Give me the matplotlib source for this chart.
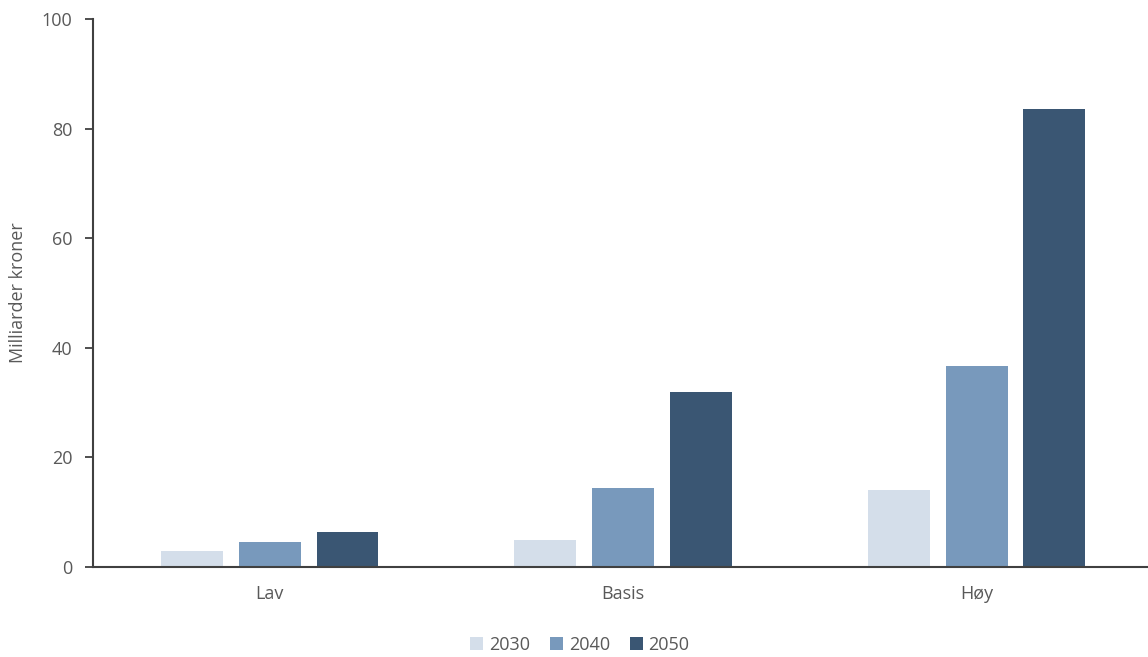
import matplotlib.pyplot as plt
import numpy as np

plt.rcParams['font.family'] = ['Open Sans', 'DejaVu Sans']

scenarios = ['Lav', 'Basis', 'Høy']
years = ['2030', '2040', '2050']
values_2030 = [2.9, 4.9, 14.1]
values_2040 = [4.6, 14.4, 36.7]
values_2050 = [6.4, 31.9, 83.6]
colors = ['#D4DEEA', '#7899BC', '#3A5673']

text_color = '#595959'
axis_color = '#404040'
fs = 13

fig = plt.figure(figsize=(11.48, 6.57), dpi=100)
ax = fig.add_axes([0.081, 0.137, 0.919, 0.834])

x = np.arange(len(scenarios))
step = 0.22
width = 0.175
series = [values_2030, values_2040, values_2050]
for i, (vals, year, col) in enumerate(zip(series, years, colors)):
    ax.bar(x + (i - 1) * step, vals, width, color=col, label=year)

ax.set_xlim(-0.5, 2.485)
ax.set_ylim(0, 100)
ax.set_yticks([0, 20, 40, 60, 80, 100])
ax.set_xticks(x)
ax.set_xticklabels(scenarios)

for side in ['top', 'right']:
    ax.spines[side].set_visible(False)
for side in ['left', 'bottom']:
    ax.spines[side].set_color(axis_color)
    ax.spines[side].set_linewidth(1.5)

ax.tick_params(axis='y', direction='out', length=6, width=1.3, color=axis_color,
               labelsize=fs, labelcolor=text_color, pad=9)
ax.tick_params(axis='x', length=0, labelsize=fs, labelcolor=text_color, pad=13)

fig.text(18 / 1148, 1 - 293 / 657, 'Milliarder kroner', rotation=90, fontsize=fs,
         color=text_color, ha='center', va='center')

fig.legend(loc='center', bbox_to_anchor=(0.505, 0.019), ncol=3, frameon=False,
           fontsize=fs, labelcolor=text_color, handlelength=0.75, handleheight=0.75,
           handletextpad=0.3, columnspacing=1.1)

fig.savefig('out.png', dpi=100)
